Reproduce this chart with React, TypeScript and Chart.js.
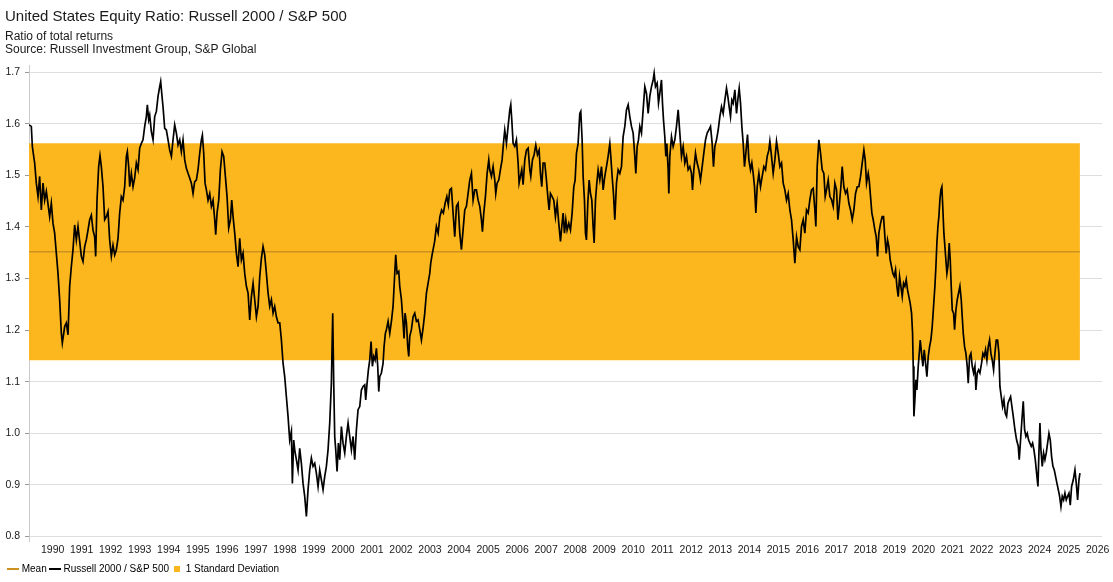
import React, { useEffect, useRef } from "react";
import { Chart, registerables } from "chart.js";

Chart.register(...registerables);

const FONT = "'Liberation Sans', Arial, sans-serif";

const TITLE = "United States Equity Ratio: Russell 2000 / S&P 500";
const SUBTITLE = ["Ratio of total returns", "Source: Russell Investment Group, S&P Global"];
const SERIES_LABEL = "Russell 2000 / S&P 500";
const MEAN_LABEL = "Mean";
const BAND_LABEL = "1 Standard Deviation";

const MEAN = 1.352;
const STD_DEV = 0.2105;

const X_TICK_YEARS = [
  1990, 1991, 1992, 1993, 1994, 1995, 1996, 1997, 1998, 1999, 2000, 2001, 2002,
  2003, 2004, 2005, 2006, 2007, 2008, 2009, 2010, 2011, 2012, 2013, 2014, 2015,
  2016, 2017, 2018, 2019, 2020, 2021, 2022, 2023, 2024, 2025, 2026,
];
const Y_TICKS = [0.8, 0.9, 1.0, 1.1, 1.2, 1.3, 1.4, 1.5, 1.6, 1.7];

const X_MAX = 2026.65;
const Y_MIN = 0.79;
const Y_MAX = 1.714;

// [decimal year, ratio]
const ratio1989to1998: [number, number][] = [
  [1989.685,1.598],[1989.765,1.595],[1989.800,1.556],[1989.880,1.524],[1989.937,1.485],[1989.995,1.459],[1990.052,1.498],[1990.110,1.433],[1990.167,1.485],[1990.225,1.452],
  [1990.282,1.469],[1990.397,1.420],[1990.454,1.446],[1990.512,1.407],[1990.569,1.388],[1990.627,1.349],[1990.684,1.310],[1990.741,1.259],[1990.799,1.194],[1990.833,1.175],
  [1990.914,1.207],[1990.971,1.214],[1991.029,1.191],[1991.086,1.285],[1991.143,1.323],[1991.201,1.356],[1991.258,1.404],[1991.316,1.375],[1991.373,1.401],[1991.431,1.372],
  [1991.488,1.343],[1991.545,1.333],[1991.603,1.362],[1991.660,1.375],[1991.718,1.394],[1991.775,1.414],[1991.833,1.423],[1991.890,1.394],[1991.947,1.381],[1991.982,1.343],
  [1992.028,1.452],[1992.085,1.517],[1992.131,1.538],[1992.177,1.517],[1992.235,1.478],[1992.292,1.414],[1992.350,1.420],[1992.407,1.430],[1992.464,1.375],[1992.522,1.343],
  [1992.579,1.365],[1992.637,1.346],[1992.694,1.356],[1992.752,1.378],[1992.809,1.427],[1992.866,1.459],[1992.924,1.452],[1992.981,1.478],[1993.039,1.537],[1993.073,1.546],
  [1993.119,1.517],[1993.154,1.478],[1993.211,1.504],[1993.269,1.478],[1993.326,1.495],[1993.383,1.524],[1993.441,1.511],[1993.498,1.553],[1993.556,1.562],[1993.613,1.569],
  [1993.671,1.595],[1993.728,1.614],[1993.762,1.637],[1993.808,1.608],[1993.843,1.617],[1993.900,1.585],[1993.958,1.569],[1994.015,1.614],[1994.073,1.624],[1994.130,1.653],
  [1994.188,1.672],[1994.222,1.682],[1994.268,1.653],[1994.302,1.633],[1994.360,1.591],[1994.417,1.588],[1994.475,1.569],[1994.532,1.549],[1994.590,1.537],[1994.647,1.569],
  [1994.704,1.598],[1994.762,1.582],[1994.819,1.559],[1994.877,1.569],[1994.934,1.546],[1994.991,1.569],[1995.049,1.530],[1995.106,1.514],[1995.164,1.504],[1995.221,1.495],
  [1995.279,1.485],[1995.336,1.465],[1995.393,1.488],[1995.451,1.491],[1995.508,1.511],[1995.566,1.543],[1995.623,1.569],[1995.658,1.578],[1995.704,1.543],[1995.750,1.485],
  [1995.796,1.472],[1995.853,1.452],[1995.911,1.465],[1995.968,1.440],[1996.025,1.452],[1996.083,1.414],[1996.117,1.385],[1996.163,1.427],[1996.221,1.452],[1996.278,1.511],
  [1996.336,1.546],[1996.393,1.537],[1996.450,1.498],[1996.508,1.459],[1996.565,1.398],[1996.623,1.414],[1996.669,1.452],[1996.715,1.420],[1996.772,1.388],[1996.830,1.349],
  [1996.887,1.323],[1996.944,1.378],[1997.002,1.336],[1997.059,1.349],[1997.117,1.310],[1997.174,1.285],[1997.232,1.272],[1997.289,1.220],[1997.346,1.265],[1997.404,1.291],
  [1997.461,1.259],[1997.519,1.226],[1997.576,1.246],[1997.634,1.304],[1997.691,1.339],[1997.748,1.362],[1997.806,1.346],[1997.863,1.310],[1997.921,1.272],[1997.978,1.246],
  [1998.036,1.259],[1998.093,1.233],[1998.150,1.246],[1998.208,1.226],[1998.265,1.214],[1998.323,1.214],[1998.380,1.181],
];

const ratio1998to2004: [number, number][] = [
  [1998.437,1.136],[1998.494,1.110],[1998.552,1.071],[1998.609,1.033],[1998.666,0.987],[1998.724,1.004],[1998.758,0.903],[1998.804,0.987],[1998.839,0.968],[1998.896,0.949],
  [1998.954,0.929],[1999.011,0.971],[1999.068,0.942],[1999.126,0.903],[1999.183,0.878],[1999.241,0.839],[1999.298,0.891],[1999.356,0.929],[1999.413,0.952],[1999.470,0.936],
  [1999.528,0.942],[1999.585,0.923],[1999.643,0.897],[1999.700,0.929],[1999.758,0.910],[1999.815,0.891],[1999.872,0.916],[1999.930,0.936],[1999.987,0.968],[2000.045,1.020],
  [2000.102,1.097],[2000.148,1.233],[2000.183,1.097],[2000.217,0.994],[2000.252,0.968],[2000.298,0.926],[2000.344,0.981],[2000.390,0.949],[2000.447,1.013],[2000.504,0.981],
  [2000.562,0.962],[2000.619,0.994],[2000.677,1.020],[2000.734,0.994],[2000.792,0.968],[2000.849,0.994],[2000.906,0.949],[2000.964,1.007],[2001.021,1.046],[2001.079,1.052],
  [2001.136,1.084],[2001.194,1.091],[2001.251,1.094],[2001.285,1.065],[2001.331,1.097],[2001.377,1.123],[2001.423,1.142],[2001.469,1.178],[2001.515,1.130],[2001.561,1.149],
  [2001.607,1.142],[2001.653,1.165],[2001.699,1.130],[2001.734,1.081],[2001.768,1.110],[2001.825,1.117],[2001.883,1.136],[2001.917,1.168],[2001.963,1.194],[2001.998,1.201],
  [2002.055,1.217],[2002.113,1.194],[2002.170,1.217],[2002.227,1.246],[2002.285,1.310],[2002.319,1.346],[2002.365,1.310],[2002.423,1.314],[2002.457,1.285],[2002.515,1.259],
  [2002.572,1.214],[2002.606,1.184],[2002.641,1.233],[2002.687,1.214],[2002.733,1.168],[2002.767,1.149],[2002.802,1.188],[2002.859,1.201],[2002.917,1.226],[2002.974,1.233],
  [2003.032,1.217],[2003.089,1.220],[2003.146,1.201],[2003.204,1.181],[2003.261,1.204],[2003.319,1.233],[2003.376,1.272],[2003.434,1.291],[2003.491,1.310],[2003.525,1.330],
  [2003.571,1.346],[2003.606,1.356],[2003.660,1.372],[2003.720,1.401],[2003.780,1.388],[2003.840,1.420],[2003.900,1.433],[2003.960,1.427],[2004.020,1.446],[2004.080,1.459],
  [2004.130,1.443],
];

const ratio2004to2016: [number, number][] = [
  [2004.180,1.472],[2004.237,1.475],[2004.295,1.427],[2004.352,1.381],[2004.410,1.440],[2004.467,1.446],[2004.525,1.388],[2004.582,1.356],[2004.639,1.394],[2004.697,1.433],
  [2004.754,1.440],[2004.812,1.465],[2004.869,1.491],[2004.927,1.504],[2004.984,1.452],[2005.042,1.472],[2005.099,1.472],[2005.156,1.452],[2005.214,1.440],[2005.271,1.414],
  [2005.306,1.391],[2005.352,1.427],[2005.409,1.459],[2005.467,1.504],[2005.524,1.530],[2005.558,1.511],[2005.616,1.498],[2005.673,1.517],[2005.731,1.491],[2005.765,1.465],
  [2005.811,1.485],[2005.869,1.491],[2005.926,1.511],[2005.983,1.530],[2006.041,1.569],[2006.075,1.588],[2006.133,1.562],[2006.190,1.595],[2006.248,1.627],[2006.282,1.637],
  [2006.317,1.608],[2006.363,1.562],[2006.420,1.556],[2006.477,1.569],[2006.535,1.524],[2006.569,1.485],[2006.615,1.498],[2006.661,1.511],[2006.707,1.482],[2006.765,1.530],
  [2006.822,1.549],[2006.880,1.553],[2006.937,1.511],[2006.971,1.498],[2007.029,1.530],[2007.086,1.540],[2007.144,1.559],[2007.201,1.540],[2007.259,1.549],[2007.304,1.504],
  [2007.350,1.478],[2007.396,1.524],[2007.454,1.524],[2007.511,1.491],[2007.569,1.452],[2007.603,1.433],[2007.649,1.465],[2007.707,1.459],[2007.764,1.452],[2007.821,1.420],
  [2007.879,1.446],[2007.936,1.407],[2007.994,1.372],[2008.040,1.401],[2008.086,1.427],[2008.132,1.388],[2008.178,1.414],[2008.223,1.394],[2008.281,1.407],[2008.338,1.394],
  [2008.396,1.427],[2008.453,1.478],[2008.499,1.491],[2008.545,1.543],[2008.602,1.562],[2008.660,1.620],[2008.694,1.624],[2008.740,1.569],[2008.775,1.498],[2008.821,1.452],
  [2008.855,1.388],[2008.889,1.375],[2008.936,1.446],[2008.982,1.491],[2009.028,1.465],[2009.074,1.452],[2009.119,1.401],[2009.154,1.369],[2009.200,1.452],[2009.246,1.485],
  [2009.292,1.511],[2009.349,1.491],[2009.407,1.517],[2009.464,1.472],[2009.521,1.498],[2009.579,1.517],[2009.636,1.537],[2009.694,1.562],[2009.728,1.537],[2009.774,1.498],
  [2009.820,1.465],[2009.866,1.414],[2009.924,1.485],[2009.981,1.511],[2010.038,1.504],[2010.096,1.517],[2010.153,1.575],[2010.211,1.595],[2010.268,1.627],[2010.326,1.637],
  [2010.383,1.614],[2010.440,1.595],[2010.498,1.582],[2010.555,1.537],[2010.590,1.504],[2010.636,1.556],[2010.682,1.569],[2010.728,1.595],[2010.785,1.582],[2010.842,1.627],
  [2010.900,1.672],[2010.957,1.659],[2011.015,1.620],[2011.072,1.653],[2011.130,1.672],[2011.187,1.685],[2011.221,1.698],[2011.267,1.672],[2011.325,1.679],[2011.371,1.640],
  [2011.417,1.659],[2011.474,1.685],[2011.509,1.640],[2011.543,1.608],[2011.589,1.575],[2011.624,1.537],[2011.658,1.562],[2011.704,1.511],[2011.727,1.465],[2011.761,1.537],
  [2011.819,1.575],[2011.876,1.556],[2011.934,1.569],[2011.991,1.595],[2012.049,1.627],[2012.106,1.582],[2012.164,1.537],[2012.221,1.556],[2012.278,1.524],[2012.336,1.537],
  [2012.393,1.511],[2012.451,1.517],[2012.508,1.504],[2012.543,1.472],[2012.589,1.511],[2012.646,1.543],[2012.703,1.524],[2012.761,1.511],[2012.818,1.491],[2012.876,1.517],
  [2012.933,1.543],[2012.991,1.569],[2013.048,1.582],[2013.105,1.588],[2013.163,1.595],[2013.220,1.562],[2013.266,1.517],[2013.312,1.556],[2013.370,1.569],[2013.427,1.588],
  [2013.485,1.614],[2013.542,1.633],[2013.599,1.620],[2013.657,1.646],[2013.714,1.669],[2013.760,1.653],[2013.806,1.633],[2013.852,1.614],[2013.898,1.646],[2013.944,1.640],
  [2014.002,1.666],[2014.059,1.620],[2014.116,1.653],[2014.151,1.669],[2014.197,1.640],[2014.243,1.595],[2014.289,1.562],[2014.334,1.517],[2014.380,1.543],[2014.438,1.579],
  [2014.484,1.530],[2014.541,1.511],[2014.587,1.524],[2014.633,1.504],[2014.679,1.478],[2014.725,1.427],[2014.771,1.478],[2014.829,1.504],[2014.886,1.478],[2014.943,1.498],
  [2015.001,1.517],[2015.058,1.511],[2015.116,1.537],[2015.173,1.549],[2015.208,1.566],[2015.265,1.537],[2015.322,1.504],[2015.380,1.530],[2015.437,1.566],[2015.495,1.543],
  [2015.552,1.517],[2015.610,1.524],[2015.667,1.485],[2015.724,1.472],[2015.782,1.452],[2015.839,1.465],[2015.897,1.433],[2015.954,1.414],[2016.012,1.375],[2016.069,1.330],
  [2016.127,1.381],[2016.184,1.362],[2016.241,1.356],
];

const ratio2016to2025: [number, number][] = [
  [2016.298,1.401],[2016.356,1.414],[2016.413,1.388],[2016.471,1.433],[2016.528,1.427],[2016.586,1.453],[2016.643,1.472],[2016.701,1.475],[2016.758,1.433],[2016.792,1.401],
  [2016.838,1.517],[2016.896,1.569],[2016.953,1.543],[2017.011,1.511],[2017.068,1.504],[2017.114,1.459],[2017.160,1.472],[2017.217,1.491],[2017.275,1.459],[2017.332,1.453],
  [2017.390,1.440],[2017.447,1.485],[2017.505,1.472],[2017.551,1.414],[2017.596,1.440],[2017.654,1.478],[2017.700,1.517],[2017.757,1.478],[2017.815,1.465],[2017.872,1.472],
  [2017.930,1.446],[2017.987,1.433],[2018.045,1.414],[2018.102,1.433],[2018.159,1.465],[2018.217,1.478],[2018.274,1.478],[2018.332,1.498],[2018.389,1.524],[2018.447,1.549],
  [2018.492,1.530],[2018.538,1.485],[2018.596,1.504],[2018.630,1.491],[2018.676,1.459],[2018.722,1.427],[2018.768,1.414],[2018.826,1.394],[2018.872,1.381],[2018.918,1.343],
  [2018.963,1.388],[2019.021,1.407],[2019.078,1.420],[2019.124,1.420],[2019.170,1.381],[2019.216,1.349],[2019.262,1.375],[2019.308,1.362],[2019.354,1.336],[2019.400,1.323],
  [2019.446,1.310],[2019.492,1.304],[2019.538,1.317],[2019.584,1.285],[2019.630,1.265],[2019.676,1.304],[2019.722,1.285],[2019.768,1.265],[2019.814,1.291],[2019.859,1.285],
  [2019.905,1.298],[2019.951,1.278],[2019.997,1.265],[2020.043,1.252],[2020.089,1.233],[2020.124,1.194],[2020.147,1.130],[2020.170,1.033],[2020.204,1.065],[2020.239,1.104],
  [2020.273,1.084],[2020.319,1.130],[2020.354,1.155],[2020.388,1.181],[2020.434,1.155],[2020.480,1.130],[2020.526,1.162],[2020.572,1.136],[2020.618,1.110],[2020.664,1.149],
  [2020.710,1.168],[2020.755,1.181],[2020.801,1.207],[2020.847,1.246],[2020.893,1.285],[2020.928,1.323],[2020.962,1.369],[2020.997,1.401],[2021.031,1.420],[2021.066,1.453],
  [2021.100,1.472],[2021.134,1.478],[2021.169,1.433],[2021.203,1.388],[2021.238,1.362],[2021.272,1.336],[2021.307,1.310],[2021.341,1.323],[2021.387,1.369],[2021.422,1.336],
  [2021.456,1.285],[2021.491,1.239],[2021.537,1.233],[2021.571,1.201],[2021.617,1.239],[2021.663,1.259],[2021.709,1.272],[2021.755,1.285],[2021.801,1.259],[2021.835,1.226],
  [2021.870,1.194],[2021.916,1.168],[2021.962,1.155],[2022.007,1.130],[2022.042,1.097],[2022.088,1.149],[2022.134,1.155],[2022.180,1.130],[2022.226,1.117],[2022.272,1.130],
  [2022.306,1.084],[2022.352,1.117],[2022.398,1.123],[2022.444,1.117],[2022.501,1.136],[2022.547,1.155],[2022.593,1.149],[2022.639,1.162],[2022.685,1.142],[2022.731,1.168],
  [2022.777,1.181],[2022.823,1.155],[2022.869,1.142],[2022.915,1.123],[2022.961,1.155],[2023.007,1.181],[2023.053,1.181],[2023.099,1.155],[2023.133,1.091],[2023.179,1.071],
  [2023.225,1.052],[2023.271,1.065],[2023.317,1.039],[2023.363,1.033],[2023.409,1.058],[2023.455,1.065],[2023.501,1.071],[2023.547,1.052],[2023.593,1.033],[2023.650,1.007],
  [2023.708,0.987],[2023.765,0.975],[2023.799,0.949],[2023.845,0.987],[2023.891,1.026],[2023.937,1.062],[2023.983,1.007],[2024.029,0.994],[2024.075,1.000],[2024.121,0.987],
  [2024.167,0.981],[2024.213,0.975],[2024.259,0.981],[2024.305,0.968],[2024.351,0.949],[2024.397,0.923],[2024.443,0.897],[2024.477,0.962],[2024.512,1.020],[2024.546,0.968],
  [2024.592,0.936],[2024.638,0.962],[2024.684,0.949],[2024.730,0.962],[2024.776,0.981],[2024.822,1.000],[2024.868,0.987],[2024.914,0.955],[2024.960,0.936],[2025.006,0.929],
  [2025.052,0.916],[2025.098,0.903],[2025.144,0.891],[2025.190,0.878],[2025.236,0.858],[2025.281,0.878],[2025.327,0.871],[2025.373,0.884],[2025.419,0.871],[2025.465,0.878],
  [2025.511,0.884],[2025.557,0.861],[2025.603,0.897],[2025.661,0.910],[2025.718,0.929],[2025.764,0.903],[2025.810,0.871],[2025.856,0.910],[2025.890,0.923],
];

const LINE_COLOR = "#000000";
const MEAN_COLOR = "#CB9220";
const BAND_COLOR = "#FDB71E";
const TEXT_COLOR = "#1a1a1a";

function marker(w: number, h: number, color: string): HTMLCanvasElement {
  const c = document.createElement("canvas");
  c.width = w;
  c.height = h;
  const ctx = c.getContext("2d");
  if (ctx) {
    ctx.fillStyle = color;
    ctx.fillRect(0, 0, w, h);
  }
  return c;
}

export default function App() {
  const ref = useRef<HTMLCanvasElement | null>(null);

  useEffect(() => {
    document.body.style.margin = "0";
    const canvas = ref.current;
    if (!canvas) return;

    const series = [...ratio1989to1998, ...ratio1998to2004, ...ratio2004to2016, ...ratio2016to2025].map(
      ([x, y]) => ({ x, y })
    );
    const first = series[0].x;
    const last = series[series.length - 1].x;

    const meanMarker = marker(12, 2, MEAN_COLOR);
    const lineMarker = marker(12, 2, LINE_COLOR);
    const bandMarker = marker(6, 6, BAND_COLOR);

    const chart = new Chart(canvas, {
      type: "line",
      data: {
        datasets: [
          {
            label: MEAN_LABEL,
            data: [
              { x: first, y: MEAN },
              { x: last, y: MEAN },
            ],
            borderColor: MEAN_COLOR,
            borderWidth: 1.6,
            pointRadius: 0,
            fill: false,
            order: 1,
          },
          {
            label: SERIES_LABEL,
            data: series,
            borderColor: LINE_COLOR,
            borderWidth: 1.7,
            pointRadius: 0,
            tension: 0,
            fill: false,
            order: 0,
          },
          {
            label: BAND_LABEL,
            data: [
              { x: first, y: MEAN + STD_DEV },
              { x: last, y: MEAN + STD_DEV },
            ],
            borderColor: "rgba(0,0,0,0)",
            borderWidth: 0,
            backgroundColor: BAND_COLOR,
            pointRadius: 0,
            fill: { value: MEAN - STD_DEV },
            order: 2,
          },
        ],
      },
      options: {
        responsive: false,
        animation: false,
        devicePixelRatio: 1,
        events: [],
        layout: { padding: { left: 5, right: 11, top: 0, bottom: -2.3 } },
        plugins: {
          title: {
            display: true,
            text: TITLE,
            align: "start",
            color: TEXT_COLOR,
            font: { family: FONT, size: 15, weight: "normal", lineHeight: 1.2 },
            padding: { top: 7.6, bottom: 0 },
          },
          subtitle: {
            display: true,
            text: SUBTITLE,
            align: "start",
            color: TEXT_COLOR,
            font: { family: FONT, size: 12, weight: "normal", lineHeight: 1.1 },
            padding: { top: 4.6, bottom: 8.4 },
          },
          legend: {
            display: true,
            position: "bottom",
            align: "start",
            labels: {
              usePointStyle: true,
              pointStyleWidth: 7,
              padding: 4.7,
              color: TEXT_COLOR,
              font: { family: FONT, size: 10 },
              generateLabels: () => [
                { text: MEAN_LABEL, pointStyle: meanMarker, fillStyle: MEAN_COLOR, strokeStyle: MEAN_COLOR, lineWidth: 0, hidden: false, datasetIndex: 0 },
                { text: SERIES_LABEL, pointStyle: lineMarker, fillStyle: LINE_COLOR, strokeStyle: LINE_COLOR, lineWidth: 0, hidden: false, datasetIndex: 1 },
                { text: BAND_LABEL, pointStyle: bandMarker, fillStyle: BAND_COLOR, strokeStyle: BAND_COLOR, lineWidth: 0, hidden: false, datasetIndex: 2 },
              ] as any,
            },
          },
          tooltip: { enabled: false },
        },
        scales: {
          x: {
            type: "linear",
            min: first,
            max: X_MAX,
            afterBuildTicks: (axis: any) => {
              axis.ticks = X_TICK_YEARS.map((y) => ({ value: y + 0.5 }));
            },
            afterFit: (scale: any) => {
              scale.height = 17.9;
            },
            ticks: {
              autoSkip: false,
              maxRotation: 0,
              minRotation: 0,
              padding: 2,
              color: TEXT_COLOR,
              font: { family: FONT, size: 10.5 },
              callback: (v: any) => String(Math.floor(Number(v))),
            },
            grid: { display: false, drawTicks: false },
            border: { display: false },
          },
          y: {
            type: "linear",
            min: Y_MIN,
            max: Y_MAX,
            afterBuildTicks: (axis: any) => {
              axis.ticks = Y_TICKS.map((v) => ({ value: v }));
            },
            afterFit: (scale: any) => {
              scale.width = 24;
            },
            ticks: {
              padding: 5,
              color: TEXT_COLOR,
              font: { family: FONT, size: 10.5 },
              callback: (v: any) => Number(v).toFixed(1),
            },
            grid: {
              color: "#dedede",
              lineWidth: 1,
              drawTicks: true,
              tickLength: 4,
              tickColor: "#999999",
            },
            border: { display: true, color: "#cccccc", width: 1 },
          },
        },
      },
    } as any);

    return () => chart.destroy();
  }, []);

  return (
    <div style={{ position: "fixed", left: 0, top: 0, width: 1113, height: 582, background: "#ffffff" }}>
      <canvas ref={ref} width={1113} height={582} style={{ display: "block" }} />
    </div>
  );
}
